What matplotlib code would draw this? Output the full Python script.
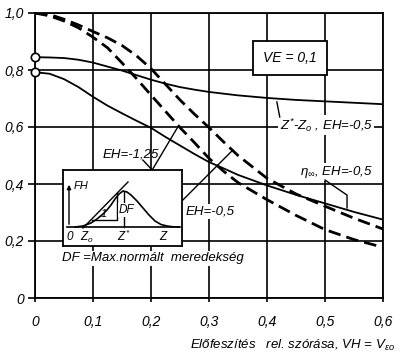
import numpy as np
import matplotlib
matplotlib.use("Agg")
import matplotlib.pyplot as plt

plt.rcParams['font.family'] = ['Liberation Sans', 'DejaVu Sans']
plt.rcParams['font.style'] = 'italic'
plt.rcParams['mathtext.fontset'] = 'custom'
plt.rcParams['mathtext.rm'] = 'Liberation Sans:italic'
plt.rcParams['mathtext.it'] = 'Liberation Sans:italic'

# ---- data ----
vh = [0.0, 0.025, 0.05, 0.075, 0.1, 0.125, 0.15, 0.175, 0.2, 0.225, 0.25, 0.275,
      0.3, 0.325, 0.35, 0.4, 0.45, 0.5, 0.55, 0.6]
zdiff_eh05 = [0.845, 0.844, 0.842, 0.836, 0.826, 0.812, 0.798, 0.782, 0.766, 0.752, 0.740,
              0.731, 0.723, 0.717, 0.711, 0.702, 0.695, 0.69, 0.685, 0.68]
eta_eh05 = [0.792, 0.787, 0.768, 0.740, 0.706, 0.675, 0.648, 0.622, 0.597, 0.565, 0.535,
            0.505, 0.477, 0.455, 0.432, 0.395, 0.362, 0.332, 0.302, 0.275]
df_eh05 = [1.0, 0.995, 0.978, 0.958, 0.935, 0.913, 0.886, 0.85, 0.805, 0.75, 0.695,
           0.645, 0.598, 0.548, 0.50, 0.42, 0.365, 0.322, 0.28, 0.242]
df_eh125 = [1.0, 0.99, 0.972, 0.948, 0.915, 0.878, 0.825, 0.77, 0.712, 0.655, 0.598,
            0.545, 0.49, 0.445, 0.405, 0.345, 0.29, 0.24, 0.205, 0.178]

xticks = [0, 0.1, 0.2, 0.3, 0.4, 0.5, 0.6]
xticklabels = ["0", "0,1", "0,2", "0,3", "0,4", "0,5", "0,6"]
yticks = [0, 0.2, 0.4, 0.6, 0.8, 1.0]
yticklabels = ["0", "0,2", "0,4", "0,6", "0,8", "1,0"]

# inset schematic (inset pixel units)
bell_x = [12, 20, 28, 34, 40, 44, 48, 52, 56, 60, 64, 68, 74, 80, 86, 92, 98, 104, 110, 116]
bell_y = [57, 56, 53, 49, 44, 40, 35, 29, 24, 21, 22, 25, 31, 38, 45, 51, 54.5, 56, 56.8, 57]

fig = plt.figure(figsize=(4.0, 3.58), dpi=100)
ax = fig.add_axes([35/400, 1-298/358, 348/400, 285/358])
ax.set_xlim(0, 0.6)
ax.set_ylim(0, 1.0)

ax.set_xticks(xticks)
ax.set_xticklabels(xticklabels)
ax.set_yticks(yticks)
ax.set_yticklabels(yticklabels)
ax.tick_params(axis='x', direction='out', length=3, width=1.2, pad=9, labelsize=10)
ax.tick_params(axis='y', direction='out', length=5, width=1.2, pad=3, labelsize=10)
for s in ax.spines.values():
    s.set_linewidth(1.3)
ax.grid(True, color='black', linewidth=1.2)
ax.set_axisbelow(True)

ax.plot(vh, zdiff_eh05, color='black', lw=1.3, zorder=3)
ax.plot(vh, eta_eh05, color='black', lw=1.3, zorder=3)
ax.plot(vh, df_eh05, color='black', lw=2.0, ls=(0, (4.5, 2.2)), zorder=3)
ax.plot(vh, df_eh125, color='black', lw=2.0, ls=(0, (4.5, 2.2)), zorder=3)
ax.plot([vh[0], vh[0]], [zdiff_eh05[0], eta_eh05[0]], ls='none', marker='o', ms=6,
        mfc='white', mec='black', mew=1.2, clip_on=False, zorder=5)

# labels and leaders
wb = dict(facecolor='white', edgecolor='none', pad=1.0)
ax.text(0.44, 0.842, "VE = 0,1", fontsize=10, ha='center', va='center', zorder=6,
        bbox=dict(boxstyle='square,pad=0.75', facecolor='white', edgecolor='black', linewidth=1.3))
ax.text(0.422, 0.607, r"$Z^{*}$-$Z_{o}$ , EH=-0,5", fontsize=9.5, ha='left', va='center', bbox=wb, zorder=4)
ax.plot([0.422, 0.417], [0.635, 0.688], color='black', lw=1.0, zorder=4)
ax.text(0.457, 0.442, r"$\eta_{\infty}$, EH=-0,5", fontsize=9.5, ha='left', va='center', bbox=wb, zorder=4)
ax.plot([0.50, 0.538, 0.538], [0.414, 0.361, 0.316], color='black', lw=1.0, zorder=4)
ax.text(0.117, 0.505, "EH=-1,25", fontsize=9.5, ha='left', va='center', zorder=4)
ax.plot([0.186, 0.202, 0.245], [0.484, 0.449, 0.596], color='black', lw=1.0, zorder=4)
ax.text(0.26, 0.305, "EH=-0,5", fontsize=9.5, ha='left', va='center', bbox=wb, zorder=4)
ax.plot([0.255, 0.341], [0.344, 0.519], color='black', lw=1.0, zorder=4)
ax.text(0.047, 0.14, "DF =Max.normált  meredekség", fontsize=9.5, ha='left', va='center', bbox=wb, zorder=4)

fig.text(395/400, 1-345/358, r"Előfeszítés   rel. szórása, VH = V$_{\varepsilon o}$",
         fontsize=9.5, ha='right', va='center')

# inset schematic
ins = fig.add_axes([63/400, 1-246/358, 119/400, 76/358])
ins.set_xlim(0, 119)
ins.set_ylim(76, 0)
ins.set_xticks([])
ins.set_yticks([])
for s in ins.spines.values():
    s.set_linewidth(1.3)
ins.set_facecolor('white')
ins.set_zorder(7)
ins.plot([4, 117], [57, 57], color='black', lw=1.2)
ins.annotate("", xy=(6, 12), xytext=(6, 57),
             arrowprops=dict(arrowstyle='-|>', color='black', lw=1.0, mutation_scale=6))
ins.plot(bell_x, bell_y, color='black', lw=1.2)
ins.plot([20, 65], [58, 12], color='black', lw=1.0)
ins.plot([29, 54, 54], [50, 50, 23], color='black', lw=1.0)
ins.plot([61, 61], [21, 57], color='black', lw=1.0)
ins.text(11, 16, "FH", fontsize=8, ha='left', va='center')
ins.text(41, 44, "1", fontsize=8, ha='center', va='center')
ins.text(56, 40, "DF", fontsize=8.5, ha='left', va='center',
         bbox=dict(facecolor='white', edgecolor='none', pad=0.5))
ins.text(7, 67, "0", fontsize=8.5, ha='center', va='center')
ins.text(24, 67, r"$Z_{o}$", fontsize=8.5, ha='center', va='center')
ins.text(61, 66, r"$Z^{*}$", fontsize=8.5, ha='center', va='center')
ins.text(100, 67, "Z", fontsize=8.5, ha='center', va='center')

fig.savefig("out.png", dpi=100)
